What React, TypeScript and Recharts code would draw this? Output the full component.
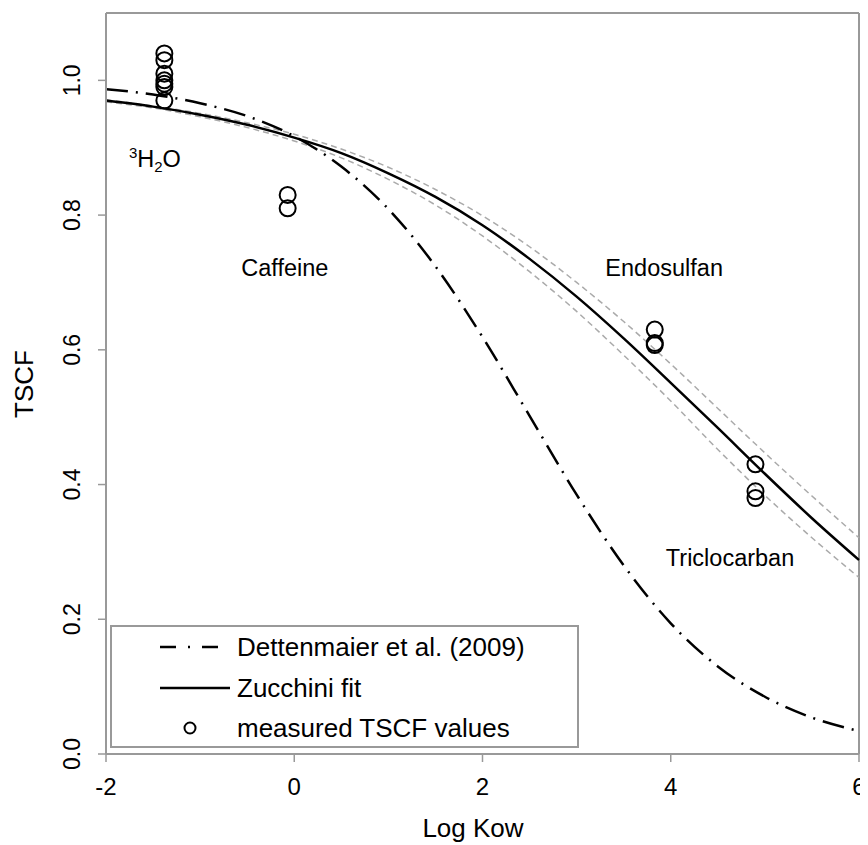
import {
  ComposedChart,
  Line,
  Scatter,
  XAxis,
  YAxis,
  Legend,
  ReferenceLine,
  ReferenceDot,
} from "recharts"

const FONT = "'Liberation Sans', Arial, sans-serif"
const AXIS_GREY = "#999"

// curve grid (log Kow) and values
const logKow = [-2, -1.5, -1, -0.5, 0, 0.5, 1, 1.5, 2, 2.5, 3, 3.5, 4, 4.5, 5, 5.5, 6]
const dettenmaier = [
  0.987, 0.979, 0.966, 0.947, 0.917, 0.872, 0.809, 0.724, 0.619, 0.502, 0.385, 0.28, 0.194, 0.13,
  0.085, 0.054, 0.034,
]
const zucchini = [
  0.97, 0.961, 0.949, 0.934, 0.915, 0.892, 0.862, 0.827, 0.785, 0.735, 0.679, 0.617, 0.551, 0.484,
  0.416, 0.35, 0.288,
]
const zucchiniUpper = [
  0.971, 0.962, 0.951, 0.937, 0.92, 0.898, 0.871, 0.838, 0.799, 0.753, 0.7, 0.642, 0.579, 0.513,
  0.447, 0.383, 0.321,
]
const zucchiniLower = [
  0.968, 0.959, 0.946, 0.93, 0.91, 0.885, 0.853, 0.815, 0.769, 0.716, 0.657, 0.592, 0.524, 0.452,
  0.384, 0.321, 0.262,
]

// measured TSCF points
const measuredKow = [
  -1.38, -1.38, -1.38, -1.38, -1.38, -1.38, -1.38, -0.07, -0.07, 3.83, 3.83, 3.83, 4.9, 4.9, 4.9,
]
const measuredTscf = [
  1.04, 1.03, 1.01, 1.0, 0.995, 0.99, 0.97, 0.83, 0.81, 0.63, 0.61, 0.607, 0.43, 0.39, 0.38,
]

const xTicks = [-2, 0, 2, 4, 6]
const yTicks = [0, 0.2, 0.4, 0.6, 0.8, 1.0]

const compoundNames = ["Caffeine", "Endosulfan", "Triclocarban"]
const compoundLabelKow = [-0.1, 3.93, 4.63]
const compoundLabelTscf = [0.722, 0.722, 0.291]

const NAME_D = "Dettenmaier et al. (2009)"
const NAME_Z = "Zucchini fit"
const NAME_M = "measured TSCF values"
const legendNames = [NAME_D, NAME_Z, NAME_M]

const curveRows = logKow.map((x, i) => ({
  x,
  dettenmaier: dettenmaier[i],
  zucchini: zucchini[i],
  upper: zucchiniUpper[i],
  lower: zucchiniLower[i],
}))

const measuredRows = measuredKow.map((x, i) => ({ x, y: measuredTscf[i] }))

const DASH_DOT = "22 8 2 8"

const YTick = ({ x, y, payload }: any) => {
  const bx = x - 18
  return (
    <text
      x={bx}
      y={y}
      transform={`rotate(-90, ${bx}, ${y})`}
      textAnchor="middle"
      fontSize={23}
      fontFamily={FONT}
      fill="#000"
    >
      {Number(payload.value).toFixed(1)}
    </text>
  )
}

const LabelText = (text: string) => (p: any) =>
  (
    <text x={p.cx} y={p.cy + 8.4} textAnchor="middle" fontSize={23.5} fontFamily={FONT} fill="#000">
      {text}
    </text>
  )

const WaterLabel = (p: any) => (
  <text x={p.cx - 27} y={p.cy + 6.5} fontSize={23.5} fontFamily={FONT} fill="#000">
    <tspan fontSize={15} dy={-9}>
      3
    </tspan>
    <tspan dy={9}>H</tspan>
    <tspan fontSize={15} dy={5}>
      2
    </tspan>
    <tspan dy={-5}>O</tspan>
  </text>
)

const LegendIcon = ({ name }: { name: string }) => {
  if (name === NAME_M) {
    return (
      <svg width={72} height={30}>
        <circle cx={30} cy={15} r={5.5} fill="none" stroke="#000" strokeWidth={2} />
      </svg>
    )
  }
  return (
    <svg width={72} height={30}>
      <line
        x1={0}
        x2={70}
        y1={15}
        y2={15}
        stroke="#000"
        strokeWidth={2.5}
        strokeDasharray={name === NAME_D ? "16 12 2 12" : undefined}
      />
    </svg>
  )
}

const LegendBox = ({ payload }: any) => {
  const items = (payload ?? [])
    .filter((e: any) => legendNames.includes(e.value))
    .sort((a: any, b: any) => legendNames.indexOf(a.value) - legendNames.indexOf(b.value))
  return (
    <div
      style={{
        width: 469,
        height: 123,
        boxSizing: "border-box",
        border: `2px solid ${AXIS_GREY}`,
        background: "#fff",
        position: "relative",
        fontFamily: FONT,
        fontSize: 26,
        color: "#000",
      }}
    >
      {items.map((entry: any, i: number) => (
        <div
          key={entry.value}
          style={{
            position: "absolute",
            left: 48,
            top: 5 + i * 40.5,
            height: 30,
            display: "flex",
            alignItems: "center",
            whiteSpace: "nowrap",
          }}
        >
          <LegendIcon name={entry.value} />
          <span style={{ marginLeft: 5, lineHeight: "30px" }}>{entry.value}</span>
        </div>
      ))}
    </div>
  )
}

export default function App() {
  return (
    <div style={{ width: 860, height: 837, background: "#fff" }}>
      <ComposedChart
        width={860}
        height={837}
        data={curveRows}
        margin={{ top: 5, right: 9, left: 0, bottom: 0 }}
      >
        <XAxis
          dataKey="x"
          type="number"
          domain={[-2, 6]}
          ticks={xTicks}
          height={91}
          tickSize={8}
          tickMargin={16}
          axisLine={{ stroke: AXIS_GREY, strokeWidth: 2 }}
          tickLine={{ stroke: AXIS_GREY, strokeWidth: 1.5 }}
          tick={{ fontSize: 24, fill: "#000", fontFamily: FONT }}
          label={{
            content: () => (
              <text x={465} y={829} textAnchor="middle" fontSize={26} fontFamily={FONT} fill="#000">
                Log Kow
              </text>
            ),
          }}
        />
        <YAxis
          type="number"
          domain={[0, 1.1]}
          ticks={yTicks}
          width={98}
          tickSize={8}
          tickMargin={0}
          axisLine={{ stroke: AXIS_GREY, strokeWidth: 2 }}
          tickLine={{ stroke: AXIS_GREY, strokeWidth: 1.5 }}
          tick={YTick}
          label={{
            content: () => (
              <text
                x={25}
                y={376}
                transform="rotate(-90, 25, 376)"
                textAnchor="middle"
                fontSize={26}
                fontFamily={FONT}
                fill="#000"
              >
                TSCF
              </text>
            ),
          }}
        />
        <ReferenceLine y={1.1} stroke={AXIS_GREY} strokeWidth={2} />
        <ReferenceLine x={6} stroke={AXIS_GREY} strokeWidth={2} />

        <Line
          dataKey="upper"
          type="monotone"
          stroke="#aaa"
          strokeWidth={1.5}
          strokeDasharray="6 4"
          dot={false}
          legendType="none"
          isAnimationActive={false}
        />
        <Line
          dataKey="lower"
          type="monotone"
          stroke="#aaa"
          strokeWidth={1.5}
          strokeDasharray="6 4"
          dot={false}
          legendType="none"
          isAnimationActive={false}
        />
        <Line
          name={NAME_D}
          dataKey="dettenmaier"
          type="monotone"
          stroke="#000"
          strokeWidth={2.5}
          strokeDasharray={DASH_DOT}
          dot={false}
          legendType="plainline"
          isAnimationActive={false}
        />
        <Line
          name={NAME_Z}
          dataKey="zucchini"
          type="monotone"
          stroke="#000"
          strokeWidth={2.5}
          dot={false}
          legendType="plainline"
          isAnimationActive={false}
        />
        <Scatter
          name={NAME_M}
          data={measuredRows}
          dataKey="y"
          legendType="circle"
          isAnimationActive={false}
          shape={(p: any) => (
            <circle cx={p.cx} cy={p.cy} r={8} fill="none" stroke="#000" strokeWidth={2} />
          )}
        />

        {compoundNames.map((name, i) => (
          <ReferenceDot
            key={name}
            x={compoundLabelKow[i]}
            y={compoundLabelTscf[i]}
            r={0}
            shape={LabelText(name)}
          />
        ))}
        <ReferenceDot x={-1.47} y={0.8815} r={0} shape={WaterLabel} />

        <Legend
          layout="vertical"
          align="center"
          verticalAlign="middle"
          wrapperStyle={{ left: 102, top: 617, width: 469, height: 123 }}
          content={LegendBox}
        />
      </ComposedChart>
    </div>
  )
}
